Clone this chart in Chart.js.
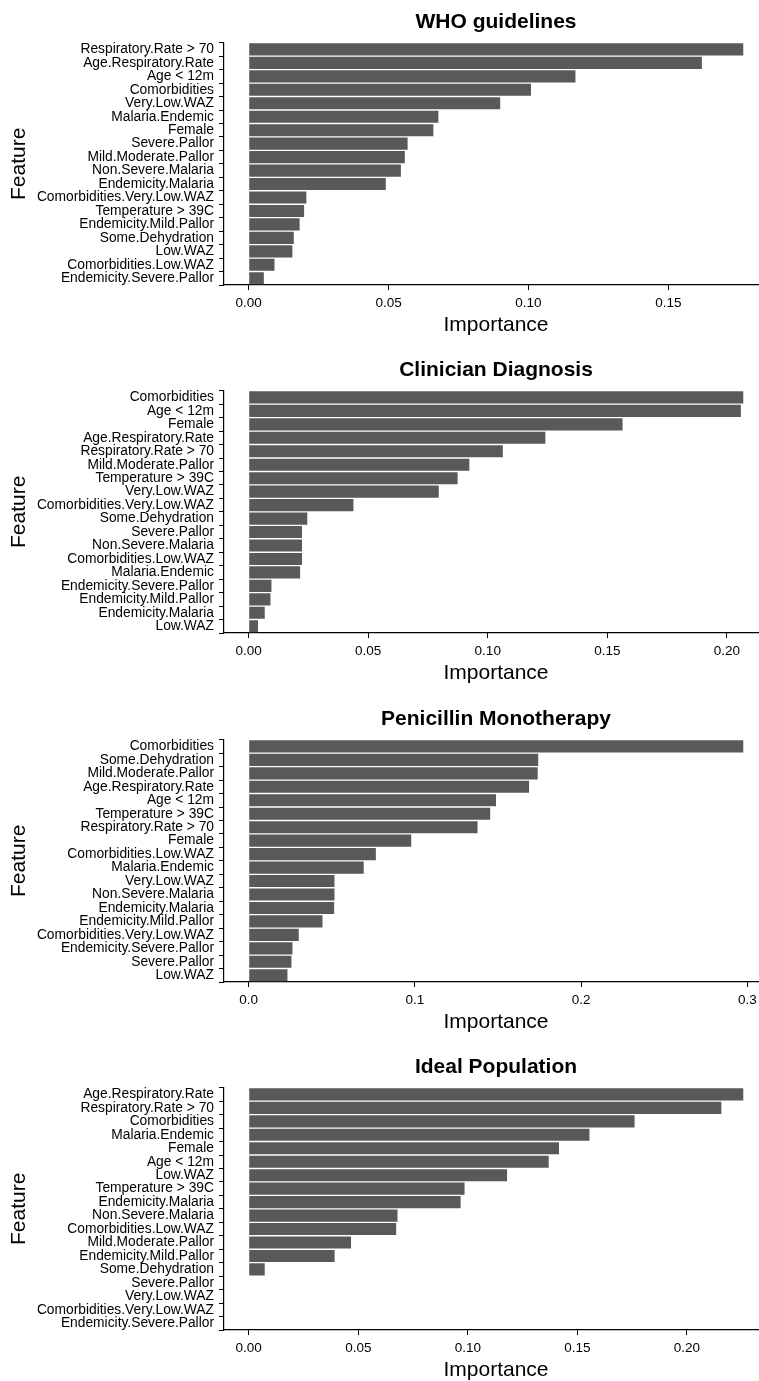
<!DOCTYPE html>
<html>
<head>
<meta charset="utf-8">
<script src="https://cdn.jsdelivr.net/npm/chart.js@4/dist/chart.umd.min.js"></script>
<style>
  html, body { margin: 0; padding: 0; background: #fff; overflow: hidden; width: 759px; height: 1381px; }
  canvas { position: absolute; left: 0; }
</style>
</head>
<body>
<canvas id="c1" width="768" height="345" style="top:0px"></canvas>
<canvas id="c2" width="768" height="345" style="top:348px"></canvas>
<canvas id="c3" width="768" height="345" style="top:697px"></canvas>
<canvas id="c4" width="768" height="345" style="top:1045px"></canvas>
<script>
// values, top bar first

var whoTitle = "WHO guidelines";
var whoLabels = ["Respiratory.Rate > 70", "Age.Respiratory.Rate", "Age < 12m", "Comorbidities",
  "Very.Low.WAZ", "Malaria.Endemic", "Female", "Severe.Pallor", "Mild.Moderate.Pallor",
  "Non.Severe.Malaria", "Endemicity.Malaria", "Comorbidities.Very.Low.WAZ", "Temperature > 39C",
  "Endemicity.Mild.Pallor", "Some.Dehydration", "Low.WAZ", "Comorbidities.Low.WAZ",
  "Endemicity.Severe.Pallor"];
var whoValues = [0.1768, 0.162, 0.1168, 0.1009, 0.0899, 0.0678, 0.066, 0.0568, 0.0558,
  0.0544, 0.049, 0.0206, 0.0198, 0.0182, 0.0161, 0.0156, 0.0092, 0.0054];
var whoTicks = [0, 0.05, 0.10, 0.15];
var whoTickLabels = ["0.00", "0.05", "0.10", "0.15"];

var clinTitle = "Clinician Diagnosis";
var clinLabels = ["Comorbidities", "Age < 12m", "Female", "Age.Respiratory.Rate",
  "Respiratory.Rate > 70", "Mild.Moderate.Pallor", "Temperature > 39C", "Very.Low.WAZ",
  "Comorbidities.Very.Low.WAZ", "Some.Dehydration", "Severe.Pallor", "Non.Severe.Malaria",
  "Comorbidities.Low.WAZ", "Malaria.Endemic", "Endemicity.Severe.Pallor",
  "Endemicity.Mild.Pallor", "Endemicity.Malaria", "Low.WAZ"];
var clinValues = [0.2069, 0.2059, 0.1564, 0.1241, 0.1063, 0.0923, 0.0874, 0.0795, 0.0438,
  0.0245, 0.0223, 0.0223, 0.0223, 0.0215, 0.0095, 0.0091, 0.0067, 0.0039];
var clinTicks = [0, 0.05, 0.10, 0.15, 0.20];
var clinTickLabels = ["0.00", "0.05", "0.10", "0.15", "0.20"];

var peniTitle = "Penicillin Monotherapy";
var peniLabels = ["Comorbidities", "Some.Dehydration", "Mild.Moderate.Pallor",
  "Age.Respiratory.Rate", "Age < 12m", "Temperature > 39C", "Respiratory.Rate > 70", "Female",
  "Comorbidities.Low.WAZ", "Malaria.Endemic", "Very.Low.WAZ", "Non.Severe.Malaria",
  "Endemicity.Malaria", "Endemicity.Mild.Pallor", "Comorbidities.Very.Low.WAZ",
  "Endemicity.Severe.Pallor", "Severe.Pallor", "Low.WAZ"];
var peniValues = [0.2976, 0.1742, 0.1739, 0.1687, 0.1488, 0.1453, 0.1377, 0.0978, 0.0765,
  0.0692, 0.0516, 0.0516, 0.0514, 0.0444, 0.0301, 0.0263, 0.0257, 0.0233];
var peniTicks = [0, 0.1, 0.2, 0.3];
var peniTickLabels = ["0.0", "0.1", "0.2", "0.3"];

var idealTitle = "Ideal Population";
var idealLabels = ["Age.Respiratory.Rate", "Respiratory.Rate > 70", "Comorbidities",
  "Malaria.Endemic", "Female", "Age < 12m", "Low.WAZ", "Temperature > 39C",
  "Endemicity.Malaria", "Non.Severe.Malaria", "Comorbidities.Low.WAZ", "Mild.Moderate.Pallor",
  "Endemicity.Mild.Pallor", "Some.Dehydration", "Severe.Pallor", "Very.Low.WAZ",
  "Comorbidities.Very.Low.WAZ", "Endemicity.Severe.Pallor"];
var idealValues = [0.2257, 0.2157, 0.1761, 0.1555, 0.1416, 0.1369, 0.1179, 0.0985, 0.0967,
  0.0679, 0.0673, 0.0467, 0.0392, 0.0073, 0, 0, 0, 0];
var idealTicks = [0, 0.05, 0.10, 0.15, 0.20];
var idealTickLabels = ["0.00", "0.05", "0.10", "0.15", "0.20"];

Chart.defaults.font.family = "'Liberation Sans', Arial, Helvetica, sans-serif";
Chart.defaults.color = "#000";

function makeChart(id, title, labels, values, ticks, tickLabels) {
  var top = Math.max.apply(null, values);
  // ggplot style 5% expansion on both sides
  var pad = top * 0.05;

  return new Chart(document.getElementById(id).getContext('2d'), {
    type: 'bar',
    data: {
      labels: labels,
      datasets: [{
        data: values,
        backgroundColor: '#595959',
        borderWidth: 0,
        categoryPercentage: 0.9,
        barPercentage: 1.0
      }]
    },
    options: {
      indexAxis: 'y',
      responsive: false,
      animation: false,
      layout: { padding: 0 },
      plugins: {
        legend: { display: false },
        tooltip: { enabled: false },
        title: {
          display: true,
          text: title,
          fullSize: false,
          font: { size: 21, weight: 'bold' },
          padding: { top: 10, bottom: 7.5 }
        }
      },
      scales: {
        x: {
          type: 'linear',
          min: -pad,
          max: top + pad,
          afterBuildTicks: function(scale) {
            scale.ticks = ticks.map(function(v) { return { value: v }; });
          },
          afterFit: function(scale) { scale.height = 60; },
          ticks: {
            autoSkip: false,
            maxRotation: 0,
            padding: 5,
            font: { size: 13.5 },
            callback: function(v, i) { return tickLabels[i]; }
          },
          grid: { drawOnChartArea: false, drawTicks: true, tickLength: 5, color: '#000', lineWidth: 1 },
          border: { display: true, color: '#000', width: 1.2 },
          title: { display: true, text: 'Importance', font: { size: 21 }, padding: { top: 0, bottom: 7 } }
        },
        y: {
          afterFit: function(scale) { scale.width = 224; },
          ticks: { autoSkip: false, padding: 5, font: { size: 13.8 } },
          grid: { drawOnChartArea: false, drawTicks: true, tickLength: 5, color: '#000', lineWidth: 1 },
          border: { display: true, color: '#000', width: 1.2 },
          title: { display: true, text: 'Feature', font: { size: 21 }, padding: { top: 7, bottom: 0 } }
        }
      }
    }
  });
}

makeChart('c1', whoTitle, whoLabels, whoValues, whoTicks, whoTickLabels);
makeChart('c2', clinTitle, clinLabels, clinValues, clinTicks, clinTickLabels);
makeChart('c3', peniTitle, peniLabels, peniValues, peniTicks, peniTickLabels);
makeChart('c4', idealTitle, idealLabels, idealValues, idealTicks, idealTickLabels);
</script>
</body>
</html>
